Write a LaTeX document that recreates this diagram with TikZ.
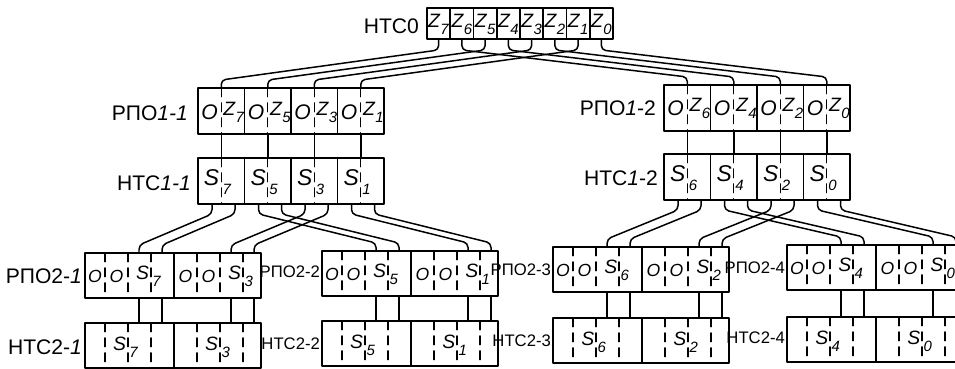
\documentclass[tikz,border=0pt]{standalone}
\usepackage{fontspec}
\setmainfont{Liberation Sans}
\usetikzlibrary{calc}

% буква разряда с индексом
\newcommand{\ix}[2]{\textit{#1}\raisebox{-0.7ex}{\fontsize{8.5}{9}\selectfont\textit{#2}}}
% то же, с зазором под линию разряда
\newcommand{\sx}[2]{\textit{#1}\kern2pt\raisebox{-0.7ex}{\fontsize{8.5}{9}\selectfont\textit{#2}}}

\begin{document}
\begin{tikzpicture}[
    x=0.02cm, y=-0.02cm,
    line cap=round,
    line join=round,
    frame/.style={line width=1.1pt},
    split/.style={line width=0.8pt,dash pattern=on 5pt off 3.5pt},
    wire/.style={line width=0.85pt,rounded corners=2.5pt},
    reglbl/.style={anchor=east,inner sep=1pt,font=\fontsize{12}{12}\selectfont},
    smlbl/.style={anchor=east,inner sep=1pt,font=\fontsize{9.5}{10}\selectfont},
    zbit/.style={inner sep=0pt,font=\fontsize{11}{11}\selectfont},
    sbit/.style={inner sep=0pt,font=\fontsize{13}{13}\selectfont},
    sbitsm/.style={inner sep=0pt,font=\fontsize{11}{11}\selectfont},
    obit/.style={inner sep=0pt,font=\fontsize{12}{12}\selectfont\itshape},
    obitsm/.style={inner sep=0pt,font=\fontsize{10}{10}\selectfont\itshape}
]
\clip (0,0) rectangle (955,368);

% -------------------------------------------------
% НТС0
% -------------------------------------------------
\draw[frame] (427,8) rectangle (613,39);
\foreach \i in {1,...,7}
  \draw[frame] (427+23.25*\i,8) -- (427+23.25*\i,39);
\foreach \k [count=\i from 0] in {7,6,5,4,3,2,1,0} {
  \node[zbit] (z\k) at (438.6+23.25*\i,24) {\ix{Z}{\k}};
  \coordinate (zo\k) at (438.6+23.25*\i,39);
}
\node[reglbl] (ntc0) at (421,26) {НТС0};

% -------------------------------------------------
% РПО1-1 и РПО1-2
% -------------------------------------------------
\foreach \xl/\yt in {198/88, 664/85} {
  \draw[frame] (\xl,\yt) rectangle (\xl+186,\yt+46);
  \foreach \i in {2,4,6}
    \draw[frame] (\xl+23.25*\i,\yt) -- (\xl+23.25*\i,\yt+46);
  \foreach \i in {1,3,5,7}
    \draw[split] (\xl+23.25*\i,\yt) -- (\xl+23.25*\i,\yt+46);
}
\foreach \k [count=\i from 0] in {7,5,3,1} {
  \node[obit] (pa\i) at (209.6+46.5*\i,112) {O};
  \node[zbit] (pz\k) at (233.9+46.5*\i,112) {\ix{Z}{\k}};
  \coordinate (a\k) at (221.25+46.5*\i,88);
  \coordinate (c\k) at (221.25+46.5*\i,134);
}
\foreach \k [count=\i from 0] in {6,4,2,0} {
  \node[obit] (pb\i) at (675.6+46.5*\i,108) {O};
  \node[zbit] (pz\k) at (699.9+46.5*\i,108) {\ix{Z}{\k}};
  \coordinate (a\k) at (687.25+46.5*\i,85);
  \coordinate (c\k) at (687.25+46.5*\i,131);
}
\node[reglbl] (rpo11) at (190,113) {РПО\textit{1-1}};
\node[reglbl] (rpo12) at (658,108) {РПО\textit{1}-2};

% связи НТС0 -> РПО1
\foreach \k in {7,...,0}
  \draw[wire] (zo\k) -- ++(0,11) -- ($(a\k)+(0,-8)$) -- (a\k);

% -------------------------------------------------
% НТС1-1 и НТС1-2
% -------------------------------------------------
\foreach \xl/\yt in {198/158, 664/154} {
  \draw[frame] (\xl,\yt) rectangle (\xl+186,\yt+46);
  \foreach \j in {1,2,3}
    \draw[frame] (\xl+46.5*\j,\yt) -- (\xl+46.5*\j,\yt+46);
  \foreach \j in {0,...,3}
    \draw[split] (\xl+23.25+46.5*\j,\yt) -- (\xl+23.25+46.5*\j,\yt+46);
}
\foreach \k [count=\j from 0] in {7,5,3,1} {
  \node[sbit] (s\k) at (217.75+46.5*\j,182) {\sx{S}{\k}};
  \coordinate (d\k) at (221.25+46.5*\j,158);
  \coordinate (el\k) at (212+46.5*\j,204);
  \coordinate (er\k) at (235+46.5*\j,204);
}
\foreach \k [count=\j from 0] in {6,4,2,0} {
  \node[sbit] (s\k) at (683.75+46.5*\j,178) {\sx{S}{\k}};
  \coordinate (d\k) at (687.25+46.5*\j,154);
  \coordinate (el\k) at (678+46.5*\j,200);
  \coordinate (er\k) at (701+46.5*\j,200);
}
\node[reglbl] (ntc11) at (193,183) {НТС\textit{1-1}};
\node[reglbl] (ntc12) at (660,178) {НТС\textit{1}-2};

% связи РПО1 -> НТС1
\foreach \k in {7,...,0}
  \draw[wire] (c\k) -- (d\k);

% -------------------------------------------------
% РПО2-x и НТС2-x
% -------------------------------------------------
\foreach \nn/\xl/\yt/\yh/\ka/\kb in {1/85/253/323/7/3, 2/322/251/321/5/1,
                                     3/553/247/318/6/2, 4/787/245/317/4/0} {
  % РПО2
  \draw[frame] (\xl,\yt) rectangle (\xl+176,\yt+45);
  \draw[frame] (\xl+89,\yt) -- (\xl+89,\yt+45);
  \foreach \dx in {20,43,66,112,135,158}
    \draw[split] (\xl+\dx,\yt) -- (\xl+\dx,\yt+45);
  \node[obitsm] (oa\nn) at (\xl+10,\yt+23) {O};
  \node[obitsm] (ob\nn) at (\xl+31.5,\yt+23) {O};
  \node[sbitsm] (sa\nn) at (\xl+63.6,\yt+23) {\sx{S}{\ka}};
  \node[obitsm] (oc\nn) at (\xl+100.5,\yt+23) {O};
  \node[obitsm] (od\nn) at (\xl+123.5,\yt+23) {O};
  \node[sbitsm] (sb\nn) at (\xl+155.6,\yt+23) {\sx{S}{\kb}};
  % НТС2
  \draw[frame] (\xl,\yh) rectangle (\xl+176,\yh+45);
  \draw[frame] (\xl+89,\yh) -- (\xl+89,\yh+45);
  \foreach \dx in {20,43,66,112,135,158}
    \draw[split] (\xl+\dx,\yh) -- (\xl+\dx,\yh+45);
  \node[sbitsm] (ta\nn) at (\xl+40.6,\yh+24) {\sx{S}{\ka}};
  \node[sbitsm] (tb\nn) at (\xl+132.6,\yh+24) {\sx{S}{\kb}};
  % выводы
  \foreach \dx [count=\s] in {54,77,146,169} {
    \coordinate (in\nn\s) at (\xl+\dx,\yt);
    \coordinate (out\nn\s) at (\xl+\dx,\yt+45);
    \coordinate (top\nn\s) at (\xl+\dx,\yh);
    \draw[wire] (out\nn\s) -- (top\nn\s);
  }
}
\node[reglbl] (rpo21) at (84,276) {РПО2-\textit{1}};
\node[smlbl] (rpo22) at (322,272) {РПО2-2};
\node[smlbl] (rpo23) at (553,270) {РПО2-3};
\node[smlbl] (rpo24) at (787,268) {РПО2-4};
\node[reglbl] (ntc21) at (84,347) {НТС2-\textit{1}};
\node[smlbl] (ntc22) at (322,344) {НТС2-2};
\node[smlbl] (ntc23) at (553,341) {НТС2-3};
\node[smlbl] (ntc24) at (787,338) {НТС2-4};

% связи НТС1 -> РПО2
\foreach \k/\nn/\ia/\ib in {7/1/1/2, 3/1/3/4, 5/2/1/2, 1/2/3/4,
                            6/3/1/2, 2/3/3/4, 4/4/1/2, 0/4/3/4} {
  \draw[wire] (el\k) -- ++(0,10) -- ($(in\nn\ia)+(0,-8)$) -- (in\nn\ia);
  \draw[wire] (er\k) -- ++(0,10) -- ($(in\nn\ib)+(0,-8)$) -- (in\nn\ib);
}

\end{tikzpicture}
\end{document}
